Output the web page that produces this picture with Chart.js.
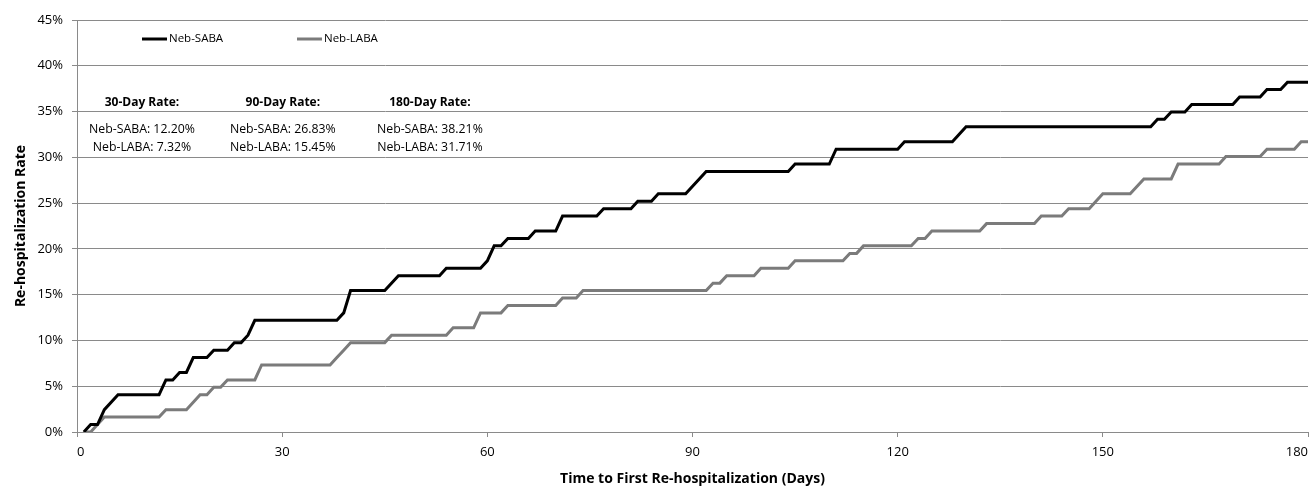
<!DOCTYPE html>
<html>
<head>
<meta charset="utf-8">
<script src="https://cdn.jsdelivr.net/npm/chart.js@4.4.0/dist/chart.umd.min.js"></script>
<style>
  html, body { margin: 0; padding: 0; background: #fff; }
  #wrap { width: 1312px; height: 486px; }
</style>
</head>
<body>
<div id="wrap"><canvas id="myChart"></canvas></div>
<script>
'use strict';
// corner points of the step curves (day, %)
let sabaDays = [1, 2, 3, 4, 6, 12, 13, 14, 15, 16, 17, 19, 20, 22, 23, 24, 25, 26, 38, 39, 40, 45, 47, 53, 54, 59, 60, 61, 62, 63, 66, 67, 70, 71, 76, 77, 81, 82, 84, 85, 89, 92, 104, 105, 110, 111, 120, 121, 128, 130, 157, 158, 159, 160, 162, 163, 169, 170, 173, 174, 176, 177, 180];
let sabaRate = [0, 0.81, 0.81, 2.44, 4.07, 4.07, 5.69, 5.69, 6.50, 6.50, 8.13, 8.13, 8.94, 8.94, 9.76, 9.76, 10.57, 12.20, 12.20, 13.01, 15.45, 15.45, 17.07, 17.07, 17.89, 17.89, 18.70, 20.33, 20.33, 21.14, 21.14, 21.95, 21.95, 23.58, 23.58, 24.39, 24.39, 25.20, 25.20, 26.02, 26.02, 28.46, 28.46, 29.27, 29.27, 30.89, 30.89, 31.71, 31.71, 33.33, 33.33, 34.15, 34.15, 34.96, 34.96, 35.77, 35.77, 36.59, 36.59, 37.40, 37.40, 38.21, 38.21];

let labaDays = [1, 2, 3, 4, 12, 13, 16, 17, 18, 19, 20, 21, 22, 26, 27, 37, 38, 39, 40, 45, 46, 54, 55, 58, 59, 62, 63, 70, 71, 73, 74, 92, 93, 94, 95, 99, 100, 104, 105, 112, 113, 114, 115, 122, 123, 124, 125, 132, 133, 140, 141, 144, 145, 148, 150, 154, 156, 160, 161, 167, 168, 173, 174, 178, 179, 180];
let labaRate = [0, 0, 0.81, 1.63, 1.63, 2.44, 2.44, 3.25, 4.07, 4.07, 4.88, 4.88, 5.69, 5.69, 7.32, 7.32, 8.13, 8.94, 9.76, 9.76, 10.57, 10.57, 11.38, 11.38, 13.01, 13.01, 13.82, 13.82, 14.63, 14.63, 15.45, 15.45, 16.26, 16.26, 17.07, 17.07, 17.89, 17.89, 18.70, 18.70, 19.51, 19.51, 20.33, 20.33, 21.14, 21.14, 21.95, 21.95, 22.76, 22.76, 23.58, 23.58, 24.39, 24.39, 26.02, 26.02, 27.64, 27.64, 29.27, 29.27, 30.08, 30.08, 30.89, 30.89, 31.71, 31.71];

let seriesNames = ['Neb-SABA', 'Neb-LABA'];
let xTicks = [0, 30, 60, 90, 120, 150, 180];
let yTicks = [0, 5, 10, 15, 20, 25, 30, 35, 40, 45];

let rateHeads = ['30-Day Rate:', '90-Day Rate:', '180-Day Rate:'];
let rateSaba = ['Neb-SABA: 12.20%', 'Neb-SABA: 26.83%', 'Neb-SABA: 38.21%'];
let rateLaba = ['Neb-LABA: 7.32%', 'Neb-LABA: 15.45%', 'Neb-LABA: 31.71%'];

function toPoints(days, rates) {
    let pts = [];
    for (let i = 0; i < days.length; i++) {
        pts.push({ x: days[i], y: rates[i] });
    }
    return pts;
}

let fontName = '"Open Sans", "Noto Sans", sans-serif';
let gridColor = '#8a8a8a';
let colors = ['#000000', '#7b7b7b'];

// legend and rate boxes sit inside the plot area
let notesPlugin = {
    id: 'notes',
    afterDatasetsDraw(chart) {
        let ctx = chart.ctx;
        let xs = chart.scales.x;
        let ys = chart.scales.y;
        ctx.save();
        ctx.textBaseline = 'middle';

        // legend
        let legX = [142, 297];
        let legY = 39;
        ctx.font = '11.5px ' + fontName;
        ctx.textAlign = 'left';
        for (let i = 0; i < 2; i++) {
            ctx.strokeStyle = colors[i];
            ctx.lineWidth = 3;
            ctx.beginPath();
            ctx.moveTo(legX[i], legY);
            ctx.lineTo(legX[i] + 25, legY);
            ctx.stroke();
            ctx.fillStyle = '#000';
            ctx.fillText(seriesNames[i], legX[i] + 27, legY);
        }

        // rate boxes
        let boxDays = [9.5, 30.1, 51.6];
        ctx.textAlign = 'center';
        ctx.fillStyle = '#000';
        for (let i = 0; i < 3; i++) {
            let cx = xs.getPixelForValue(boxDays[i]);
            ctx.font = 'bold 12px ' + fontName;
            ctx.fillText(rateHeads[i], cx, ys.getPixelForValue(35.95));
            ctx.font = '12.3px ' + fontName;
            ctx.fillText(rateSaba[i], cx, ys.getPixelForValue(33.0));
            ctx.fillText(rateLaba[i], cx, ys.getPixelForValue(31.05));
        }
        ctx.restore();
    }
};

let ctx = document.getElementById('myChart').getContext('2d');
let myChart = new Chart(ctx, {
    type: 'line',
    data: {
        datasets: [{
            label: seriesNames[0],
            data: toPoints(sabaDays, sabaRate),
            borderColor: colors[0],
            borderWidth: 3,
            pointRadius: 0,
            tension: 0,
            fill: false
        }, {
            label: seriesNames[1],
            data: toPoints(labaDays, labaRate),
            borderColor: colors[1],
            borderWidth: 3,
            pointRadius: 0,
            tension: 0,
            fill: false
        }]
    },
    options: {
        responsive: true,
        maintainAspectRatio: false,
        animation: false,
        layout: { padding: { top: 20, right: 4, left: 0, bottom: 0 } },
        plugins: {
            legend: { display: false },
            tooltip: { enabled: false }
        },
        scales: {
            x: {
                type: 'linear',
                min: 0,
                max: 180,
                afterBuildTicks: function (axis) {
                    axis.ticks = xTicks.map(v => ({ value: v }));
                },
                afterFit: function (axis) {
                    axis.height = 54;
                    axis.paddingLeft = 0;
                    axis.paddingRight = 0;
                },
                ticks: { color: '#000', font: { family: fontName, size: 13 }, padding: 7, maxRotation: 0, align: 'inner' },
                grid: { drawOnChartArea: false, color: gridColor, tickLength: 5 },
                border: { color: gridColor },
                title: {
                    display: true,
                    text: 'Time to First Re-hospitalization (Days)',
                    color: '#000',
                    font: { family: fontName, size: 14, weight: 'bold', lineHeight: 1 },
                    padding: { top: 0, bottom: 0 }
                }
            },
            y: {
                min: 0,
                max: 45,
                afterBuildTicks: function (axis) {
                    axis.ticks = yTicks.map(v => ({ value: v }));
                },
                afterFit: function (axis) {
                    axis.width = 77;
                },
                ticks: {
                    color: '#000',
                    font: { family: fontName, size: 13 },
                    padding: 9,
                    callback: v => v + '%'
                },
                grid: { color: gridColor, tickLength: 5 },
                border: { color: gridColor },
                title: {
                    display: true,
                    text: 'Re-hospitalization Rate',
                    color: '#000',
                    font: { family: fontName, size: 14, weight: 'bold', lineHeight: 1 },
                    padding: { top: 14, bottom: 0 }
                }
            }
        }
    },
    plugins: [notesPlugin]
});
</script>
</body>
</html>
